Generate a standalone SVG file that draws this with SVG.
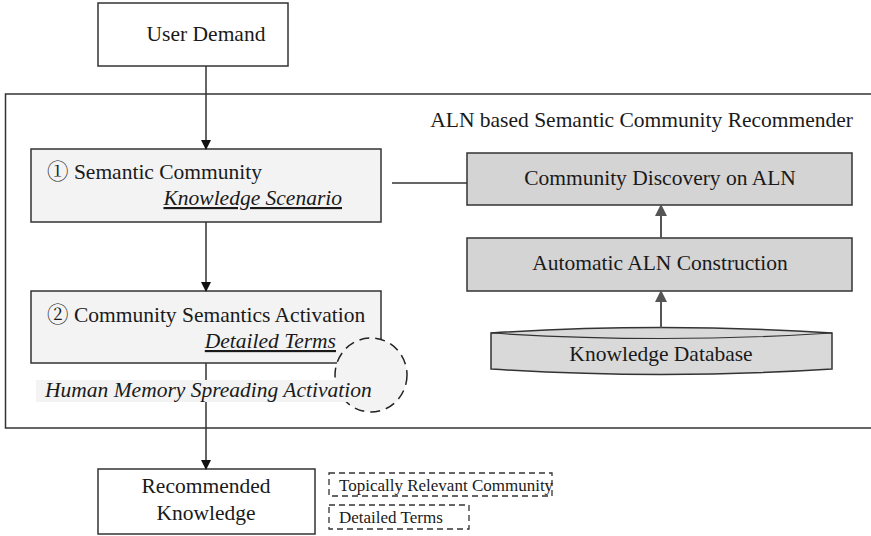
<svg xmlns="http://www.w3.org/2000/svg" width="871" height="536" viewBox="0 0 871 536" font-family="Liberation Serif, 'Noto Serif CJK SC', serif" font-size="21.5">
<style>
text{fill:#1a1a1a}
.it{font-style:italic}
.u{text-decoration:underline}
.box{stroke:#333;stroke-width:1.5}
.w{fill:#fff}
.lg{fill:#f3f3f3}
.dg{fill:#d4d4d4}
.edge{stroke:#333;stroke-width:1.5;fill:none}
.edge2{stroke:#555;stroke-width:2;fill:none}
.dash{fill:#fff;stroke:#333;stroke-width:1.3;stroke-dasharray:6,4}
.sm{font-size:17px}
</style>
<defs>
<marker id="ah" markerWidth="10" markerHeight="10" refX="9" refY="5" orient="auto" markerUnits="userSpaceOnUse">
<path d="M0,0 L10,5 L0,10 z" fill="#111"/>
</marker>
<marker id="ah2" markerWidth="12" markerHeight="12" refX="11" refY="6" orient="auto" markerUnits="userSpaceOnUse">
<path d="M0,0 L12,6 L0,12 z" fill="#555"/>
</marker>
</defs>

<g id="recommender-frame">
<rect x="5.5" y="94" width="870" height="334" fill="#fff" stroke="#333" stroke-width="1.5"/>
<text x="853" y="127" text-anchor="end">ALN based Semantic Community Recommender</text>
</g>

<g id="user-demand">
<rect class="box w" x="98" y="3" width="190" height="63"/>
<text x="206" y="41" text-anchor="middle">User Demand</text>
</g>

<g id="semantic-community">
<rect class="box lg" x="31" y="149" width="350" height="73"/>
<text x="47" y="179"><tspan font-family="Noto Serif CJK SC, serif">①</tspan> Semantic Community</text>
<text class="it u" x="342" y="205" text-anchor="end">Knowledge Scenario</text>
</g>

<g id="community-semantics-activation">
<rect class="box lg" x="31" y="291" width="350" height="72"/>
<text x="47" y="322"><tspan font-family="Noto Serif CJK SC, serif">②</tspan> Community Semantics Activation</text>
<text class="it u" x="336" y="348" text-anchor="end">Detailed Terms</text>
</g>

<g id="activation-circle">
<ellipse cx="371" cy="375" rx="36" ry="37" fill="#f3f3f3" stroke="#222" stroke-width="1.5" stroke-dasharray="10,6"/>
</g>

<g id="community-discovery">
<rect class="box dg" x="467" y="153" width="385" height="52"/>
<text x="660" y="185" text-anchor="middle">Community Discovery on ALN</text>
</g>

<g id="aln-construction">
<rect class="box dg" x="467" y="238" width="385" height="53"/>
<text x="660" y="270" text-anchor="middle">Automatic ALN Construction</text>
</g>

<g id="knowledge-database">
<path d="M491,333 Q661,322 832,333 L832,369 Q661,380 491,369 Z" fill="#d9d9d9" stroke="#333" stroke-width="1.5"/>
<path d="M491,333 Q661,344 832,333" fill="none" stroke="#333" stroke-width="1.2"/>
<text x="661" y="361" text-anchor="middle">Knowledge Database</text>
</g>

<g id="recommended-knowledge">
<rect class="box w" x="98" y="469" width="217" height="65"/>
<text x="206" y="493" text-anchor="middle">Recommended</text>
<text x="206" y="520" text-anchor="middle">Knowledge</text>
</g>

<g id="legend">
<rect class="dash" x="329" y="473" width="223" height="23"/>
<text class="sm" x="339" y="491">Topically Relevant Community</text>
<rect class="dash" x="329" y="505" width="140" height="24"/>
<text class="sm" x="339" y="523">Detailed Terms</text>
</g>

<g id="connectors">
<line class="edge" x1="206" y1="66" x2="206" y2="149" marker-end="url(#ah)"/>
<line class="edge" x1="206" y1="222" x2="206" y2="291" marker-end="url(#ah)"/>
<line class="edge" x1="206" y1="363" x2="206" y2="469" marker-end="url(#ah)"/>
<line class="edge" x1="392" y1="183" x2="467" y2="183"/>
<line class="edge2" x1="661" y1="238" x2="661" y2="205" marker-end="url(#ah2)"/>
<line class="edge2" x1="661" y1="328" x2="661" y2="291" marker-end="url(#ah2)"/>
</g>

<g id="spreading-activation-label">
<rect x="36" y="380" width="343" height="22" fill="#f3f3f3"/>
<text class="it" x="45" y="397">Human Memory Spreading Activation</text>
</g>
</svg>
